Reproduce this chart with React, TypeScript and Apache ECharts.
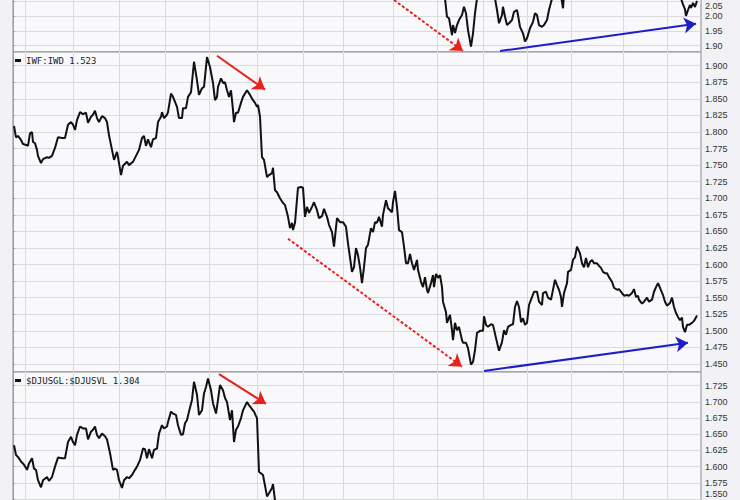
import React, { useEffect, useRef } from 'react';
import * as echarts from 'echarts';

// x = trading-session index (0..344), y = ratio value
const monthTicks = [6, 30, 53, 76, 98, 122, 145, 165, 190, 212, 235, 257, 279, 305, 327];
const topTicks = [1.9, 1.95, 2.0, 2.05];
const midTicks = [1.45, 1.475, 1.5, 1.525, 1.55, 1.575, 1.6, 1.625, 1.65, 1.675, 1.7, 1.725, 1.75, 1.775, 1.8, 1.825, 1.85, 1.875, 1.9];
const botTicks = [1.55, 1.575, 1.6, 1.625, 1.65, 1.675, 1.7, 1.725];

const topName = 'Top ratio';
const midName = 'IWF:IWD 1.523';
const botName = '$DJUSGL:$DJUSVL 1.304';

const topRatio: [number, number][] = [
  [214.5, 2.12], [216, 2.06], [217, 1.998], [218, 1.993], [219.5, 1.936], [220, 1.97], [221, 1.943], [222, 1.97], [223, 1.987], [224.5, 2.004], [225.5, 2.032], [226.5, 2.01], [227.5, 1.953], [229, 1.897], [230, 1.942], [231, 2.01], [232, 2.06], [233.5, 2.12], [237.5, 2.13], [241, 2.06], [242, 2.021], [243, 1.976], [244.5, 2.004], [245, 2.032], [246, 1.998], [247, 1.97], [248, 1.976], [249.5, 1.987], [250.5, 2.015], [252, 2.021], [252.5, 2.004], [253.5, 1.964], [255, 1.942], [256, 1.914], [257, 1.925], [258.5, 1.959], [260, 1.981], [261, 2.01], [262, 2.004], [263, 1.97], [264.5, 1.964], [265.5, 1.97], [267, 1.987], [268, 2.021], [269.5, 2.06], [271.5, 2.12], [274, 2.07], [275, 2.027], [275.5, 2.07], [278.5, 2.13], [300, 2.15], [332.5, 2.1], [334, 2.06], [335, 2.04], [336, 2.023], [336.5, 2.001], [337.5, 2.021], [338.5, 2.038], [339, 2.028], [340, 2.045], [341, 2.031], [342, 2.052]
];

const iwfIwd: [number, number][] = [
  [0.5, 1.809], [1.5, 1.792], [2.5, 1.794], [4, 1.788], [5, 1.782], [7, 1.78], [7.5, 1.779], [8.5, 1.798], [9.5, 1.8], [10, 1.785], [11, 1.783], [12, 1.773], [12.5, 1.764], [14, 1.753], [15, 1.759], [17, 1.762], [18, 1.761], [19.5, 1.764], [21, 1.776], [22.5, 1.792], [24.5, 1.791], [26, 1.791], [27.5, 1.811], [29, 1.815], [30, 1.811], [31, 1.803], [32, 1.818], [33.5, 1.83], [35, 1.827], [36.5, 1.829], [37.5, 1.814], [39, 1.823], [40, 1.826], [41, 1.832], [42, 1.821], [43, 1.815], [44.5, 1.824], [46, 1.821], [47, 1.815], [48, 1.795], [49.5, 1.773], [50.5, 1.758], [52, 1.77], [52.5, 1.762], [54, 1.735], [55, 1.749], [57, 1.755], [58, 1.75], [60, 1.755], [61.5, 1.764], [63, 1.773], [64.5, 1.791], [65.5, 1.794], [66.5, 1.779], [67.5, 1.789], [69, 1.777], [70, 1.789], [71.5, 1.791], [72.5, 1.815], [74, 1.823], [74.5, 1.83], [75.5, 1.821], [77, 1.826], [77.5, 1.83],
  [79, 1.858], [80, 1.853], [82, 1.838], [83, 1.821], [84.5, 1.821], [85, 1.836], [86.5, 1.836], [87.5, 1.853], [89, 1.86], [90.5, 1.906], [92, 1.878], [93, 1.856], [94.5, 1.866], [95.5, 1.868], [97, 1.913], [98.5, 1.898], [100, 1.874], [101, 1.848], [102, 1.853], [102.5, 1.868], [104, 1.881], [105, 1.874], [106, 1.875], [107, 1.863], [108, 1.853], [109, 1.863], [110, 1.833], [110.5, 1.815], [111.5, 1.829], [112.5, 1.829], [114, 1.844], [115, 1.853], [117, 1.863], [118.5, 1.856], [120, 1.848], [121, 1.844], [122, 1.838], [122.5, 1.841], [123.5, 1.823], [124.5, 1.762], [125.5, 1.758], [127, 1.732], [128, 1.735], [129.5, 1.738], [130, 1.746], [131, 1.712], [132, 1.709], [133.5, 1.7], [135, 1.693], [136, 1.69], [137, 1.678], [137.5, 1.672], [138.5, 1.655], [139.5, 1.663], [140, 1.652], [141, 1.663], [142.5, 1.716], [144, 1.717], [145, 1.716], [146, 1.672], [147, 1.687], [148, 1.678], [149.5, 1.687], [150.5, 1.694], [152, 1.682], [153, 1.67], [154.5, 1.673], [155.5, 1.684], [157, 1.672], [158, 1.66], [159.5, 1.649], [160.5, 1.627], [162, 1.67], [163.5, 1.664], [165, 1.664], [166.5, 1.657], [167.5, 1.632],
  [169.5, 1.589], [170.5, 1.596], [171.5, 1.625], [172.5, 1.614], [173.5, 1.596], [174.5, 1.572], [175.5, 1.596], [176.5, 1.625], [177.5, 1.63], [179, 1.655], [180, 1.649], [181, 1.664], [182, 1.663], [183, 1.672], [184.5, 1.657], [185, 1.675], [186.5, 1.697], [187.5, 1.685], [189.5, 1.679], [190, 1.694], [191, 1.711], [192, 1.687], [193, 1.652], [194.5, 1.649], [195.5, 1.627], [196.5, 1.602], [197.5, 1.602], [198.5, 1.616], [199.5, 1.602], [200.5, 1.592], [202, 1.607], [202.5, 1.592], [204, 1.574], [205, 1.566], [206, 1.581], [207, 1.562], [207.5, 1.557], [209, 1.572], [210, 1.584], [210.5, 1.566], [211.5, 1.586], [212.5, 1.58], [213.5, 1.584], [214.5, 1.566], [215, 1.544], [216.5, 1.528], [217, 1.512], [218.5, 1.524], [219.5, 1.501], [220, 1.486], [221, 1.512], [222, 1.501], [223, 1.506], [224.5, 1.486], [225, 1.482], [226.5, 1.482], [227.5, 1.474], [229, 1.449], [230, 1.453], [231, 1.471], [232, 1.497], [233.5, 1.5], [235, 1.5], [235.5, 1.522], [236.5, 1.509], [237.5, 1.506], [239, 1.51], [240, 1.509], [241.5, 1.489], [243, 1.47], [244.5, 1.483], [245.5, 1.501], [246.5, 1.494], [247.5, 1.506], [249, 1.509], [250, 1.51], [251, 1.536], [252, 1.545], [253, 1.536], [254, 1.513], [255, 1.519], [256, 1.509], [257, 1.512],
  [258, 1.539], [259.5, 1.551], [260.5, 1.559], [262, 1.559], [263, 1.544], [264.5, 1.539], [265, 1.557], [266.5, 1.559], [267.5, 1.55], [269, 1.547], [270, 1.562], [271, 1.577], [272, 1.569], [273, 1.562], [274, 1.551], [274.5, 1.536], [275.5, 1.557], [277, 1.572], [277.5, 1.589], [279, 1.592], [280, 1.607], [281, 1.611], [282, 1.627], [283.5, 1.617], [284.5, 1.602], [285.5, 1.596], [286.5, 1.61], [287.5, 1.596], [288.5, 1.604], [289.5, 1.607], [290.5, 1.602], [292, 1.602], [293, 1.598], [294, 1.595], [295, 1.589], [296, 1.587], [297, 1.587], [298, 1.581], [299.5, 1.574], [300.5, 1.565], [302, 1.562], [303, 1.563], [304.5, 1.557], [305.5, 1.553], [307, 1.554], [308, 1.553], [309.5, 1.557], [310.5, 1.563], [311.5, 1.551], [312.5, 1.553], [313, 1.547], [314.5, 1.541], [315.5, 1.544], [317, 1.55], [318, 1.544], [319.5, 1.547], [320.5, 1.559], [321.5, 1.566], [322.5, 1.572], [323.5, 1.565], [325, 1.554], [326, 1.544], [327, 1.538], [328.5, 1.542], [329.5, 1.55], [330.5, 1.536], [331.5, 1.527], [332.5, 1.521], [333.5, 1.516], [334.5, 1.52], [335, 1.506], [336, 1.498], [337, 1.509], [338, 1.509], [339.5, 1.512], [340.5, 1.515], [342, 1.523]
];

const djusRatio: [number, number][] = [
  [0.5, 1.633], [1.5, 1.618], [2.5, 1.615], [4, 1.608], [5.5, 1.603], [7, 1.595], [8, 1.605], [9.5, 1.613], [10.5, 1.597], [11.5, 1.595], [12.5, 1.579], [14, 1.568], [15, 1.579], [17, 1.584], [18, 1.578], [19.5, 1.584], [21, 1.6], [22.5, 1.614], [24.5, 1.613], [26, 1.613], [27.5, 1.638], [29, 1.646], [30, 1.638], [31, 1.633], [32, 1.649], [33.5, 1.662], [35, 1.659], [36.5, 1.659], [37.5, 1.642], [39, 1.654], [40, 1.657], [41, 1.662], [42, 1.649], [43, 1.644], [44.5, 1.651], [46, 1.647], [47, 1.642], [48.5, 1.621], [50, 1.595], [51, 1.597], [52, 1.595], [53, 1.579], [54.5, 1.567], [55.5, 1.579], [57, 1.584], [58, 1.582], [59.5, 1.587], [61, 1.595], [62, 1.6], [63.5, 1.61], [65, 1.628], [66, 1.627], [67, 1.613], [68, 1.627], [69.5, 1.613], [70.5, 1.626], [72, 1.628], [73, 1.651], [74.5, 1.664], [75.5, 1.659], [77, 1.662], [77.5, 1.669], [79, 1.685], [80, 1.682], [81.5, 1.68], [82.5, 1.664], [84, 1.649], [85, 1.65], [86, 1.667], [87, 1.672], [88, 1.685], [89.5, 1.703], [90.5, 1.731], [92, 1.711], [93, 1.68], [94.5, 1.687], [95.5, 1.713], [96.5, 1.723], [97.5, 1.736], [99, 1.718], [100, 1.698], [101.5, 1.682], [102.5, 1.703], [103.5, 1.726], [105, 1.718], [106, 1.706], [107, 1.7], [108.5, 1.672], [109.5, 1.687], [110.5, 1.638], [111.5, 1.657], [112.5, 1.662], [114, 1.675], [115, 1.687], [117, 1.7], [118, 1.695], [119.5, 1.689], [120.5, 1.685], [121.5, 1.678], [122, 1.675], [123, 1.592], [125, 1.587], [127, 1.554], [128, 1.559], [129.5, 1.567], [130, 1.573], [131, 1.548], [132, 1.52]
];

// annotation arrows [start, end] in data units
const topRedDotted: [number, number][] = [[190.5, 2.055], [225, 1.882]];
const topBlueArrow: [number, number][] = [[243.5, 1.882], [341.5, 1.974]];
const midRedArrow: [number, number][] = [[102, 1.915], [126, 1.864]];
const midRedDotted: [number, number][] = [[137.5, 1.639], [224.5, 1.446]];
const midBlueArrow: [number, number][] = [[235.5, 1.4395], [337.5, 1.482]];
const botRedArrow: [number, number][] = [[103, 1.743], [126.5, 1.697]];

const RED = '#e8221b';
const BLUE = '#1e1ec8';
const GRID_BG = '#f9f9fc';
const SPLIT = '#dadae3';

function arrow(pts: [number, number][], color: string, dashed: boolean) {
  const ls = { color, width: 2, type: dashed ? [3, 2] : 'solid' };
  return [
    { coord: pts[0], lineStyle: ls, itemStyle: { color } },
    { coord: pts[1], lineStyle: ls, itemStyle: { color } },
  ];
}

export default function App() {
  const ref = useRef<HTMLDivElement>(null);
  useEffect(() => {
    if (!ref.current) return;
    const chart = echarts.init(ref.current, null, { renderer: 'svg' });
    const panels = [
      { top: -1, height: 53, min: 1.8786, max: 2.0583, ticks: topTicks, digits: 2, vMin: 'middle', vMax: 'top' },
      { top: 52, height: 320, min: 1.4379, max: 1.9207, ticks: midTicks, digits: 3, vMin: 'middle', vMax: 'middle' },
      { top: 372, height: 129, min: 1.5469, max: 1.7462, ticks: botTicks, digits: 3, vMin: 'bottom', vMax: 'middle' },
    ];
    const seriesDefs = [
      { name: topName, data: topRatio, arrows: [arrow(topRedDotted, RED, true), arrow(topBlueArrow, BLUE, false)] },
      { name: midName, data: iwfIwd, arrows: [arrow(midRedArrow, RED, false), arrow(midRedDotted, RED, true), arrow(midBlueArrow, BLUE, false)] },
      { name: botName, data: djusRatio, arrows: [arrow(botRedArrow, RED, false)] },
    ];
    const legendText = { fontFamily: 'DejaVu Sans Mono, monospace', fontSize: 9, color: '#222' };
    chart.setOption({
      animation: false,
      backgroundColor: 'transparent',
      grid: panels.map((p) => ({
        left: 13, right: 39, top: p.top, height: p.height,
        containLabel: false, outerBoundsMode: 'none',
        show: true, backgroundColor: GRID_BG, borderColor: '#8c8c8c', borderWidth: 1,
      })),
      legend: [
        { left: 15, top: 56, padding: 0, data: [{ name: midName, icon: 'rect' }], itemWidth: 6, itemHeight: 3, selectedMode: false, textStyle: legendText },
        { left: 15, top: 376, padding: 0, data: [{ name: botName, icon: 'rect' }], itemWidth: 6, itemHeight: 3, selectedMode: false, textStyle: legendText },
      ],
      xAxis: panels.map((_, i) => ({
        type: 'value', gridIndex: i, min: 0, max: 344,
        axisLine: { show: false }, axisLabel: { show: false },
        axisTick: { show: false, customValues: monthTicks },
        splitLine: { show: true, lineStyle: { color: SPLIT, width: 1 } },
      })),
      yAxis: panels.map((p, i) => ({
        type: 'value', gridIndex: i, position: 'right', min: p.min, max: p.max,
        axisLine: { show: true, lineStyle: { color: '#999', type: 'dotted' } },
        axisTick: { show: true, length: 2, customValues: p.ticks, lineStyle: { color: '#999' } },
        axisLabel: {
          customValues: p.ticks, margin: 4, fontSize: 9, color: '#333',
          fontFamily: 'Liberation Sans, Arial, sans-serif',
          verticalAlignMinLabel: p.vMin, verticalAlignMaxLabel: p.vMax,
          formatter: (v: number) => v.toFixed(p.digits),
        },
        splitLine: { show: true, lineStyle: { color: SPLIT, width: 1 } },
      })),
      series: seriesDefs.map((s, i) => ({
        type: 'line', name: s.name, xAxisIndex: i, yAxisIndex: i,
        data: s.data, symbol: 'none', showSymbol: false, clip: true, silent: true,
        lineStyle: { color: '#111', width: 2 }, itemStyle: { color: '#111' },
        markLine: {
          silent: true, symbol: ['none', 'arrow'], symbolSize: 12,
          label: { show: false }, emphasis: { disabled: true },
          data: s.arrows,
        },
      })),
    });
    return () => chart.dispose();
  }, []);
  return (
    <div
      ref={ref}
      style={{ position: 'fixed', left: 0, top: 0, width: 740, height: 500, background: '#f2f2f6' }}
    />
  );
}
